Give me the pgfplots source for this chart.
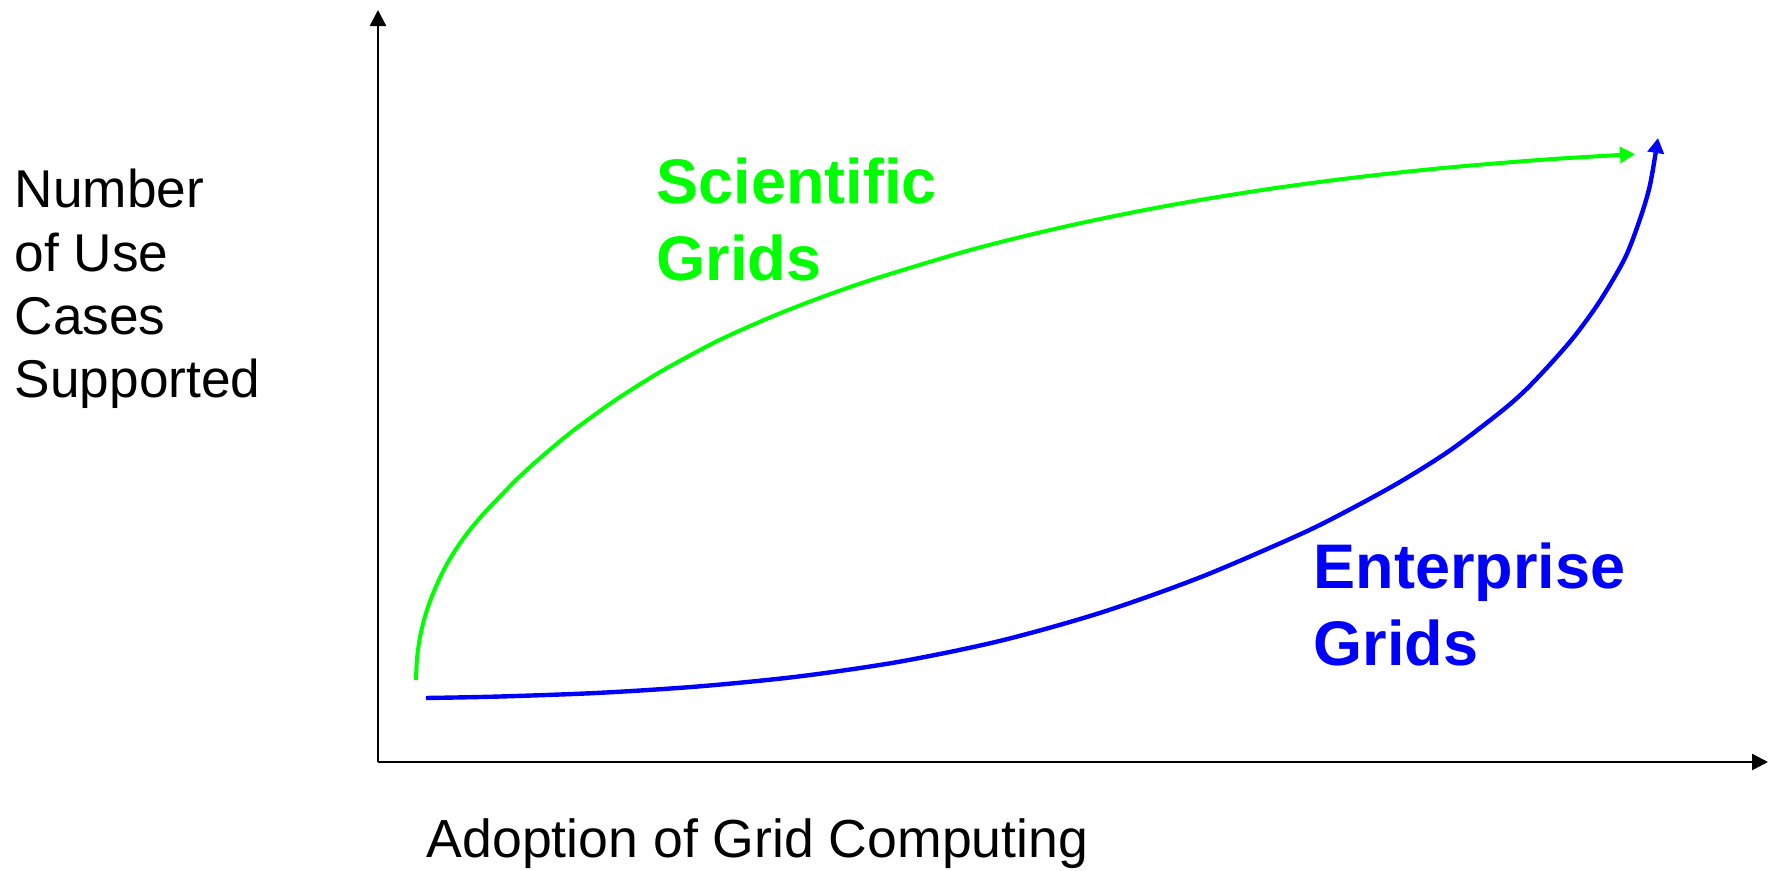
\documentclass[border=0pt]{standalone}
\usepackage{pgfplots}
\pgfplotsset{compat=1.18}
\usetikzlibrary{arrows.meta}
\usepackage{fontspec}
\setmainfont{Liberation Sans}
\definecolor{sgreen}{RGB}{0,255,0}
\definecolor{eblue}{RGB}{0,0,255}
\begin{document}
\begin{tikzpicture}
\begin{axis}[
  scale only axis, width=347.5pt, height=188pt,
  xmin=378, xmax=1768, ymin=108, ymax=860,
  axis x line=bottom, axis y line=left,
  axis line style={line width=0.6pt, -{Triangle[length=4pt,width=4pt]}},
  xtick=\empty, ytick=\empty,
  clip=false,
]
\addplot[sgreen, line width=1pt, smooth, -{Triangle[length=3.75pt,width=4pt]}] coordinates {
(416,190)(417,211.5)(420,232.8)(425,253.6)(432,274)(441,294.5)(450,311.3)(461,328.2)(473,344)(486,359)(500,373.5)(516,390)(533,405.7)(553,423)(573,439.3)(595,455.5)(617,471)(642,487)(667,502)(717,528.8)(767,551.3)(813,569.6)(870,589.7)(960,617.1)(1020,632.8)(1083,647.4)(1150,661)(1210,671.7)(1275,681.9)(1338,690.4)(1400,697.6)(1465,704)(1550,710.8)(1635,715.9)};
\addplot[eblue, line width=1.1pt, smooth, -{Triangle[length=3.75pt,width=4pt]}] coordinates {
(426,172)(500,173.5)(600,177.2)(700,183.7)(800,193.7)(900,208.4)(1000,229.1)(1100,257.1)(1200,292.6)(1300,335.6)(1350,360.6)(1400,388.1)(1450,419.6)(1500,457.6)(1525,479.4)(1550,505.6)(1575,534.4)(1600,569.1)(1625,612)(1640,651)(1650,685)(1658,732)};
\begin{scope}[every node/.style={inner sep=0pt, anchor=base west, font=\fontsize{13.3}{16}\selectfont}]
\node at (axis cs:14,663) {Number};
\node at (axis cs:14,599) {of Use};
\node at (axis cs:14,536) {Cases};
\node at (axis cs:14,473) {Supported};
\node[font=\fontsize{13.4}{16}\selectfont] at (axis cs:426,13) {Adoption of Grid Computing};
\end{scope}
\begin{scope}[every node/.style={inner sep=0pt, anchor=base west, font=\fontsize{15.75}{19}\selectfont\bfseries}]
\node[text=sgreen] at (axis cs:656,667) {Scientific};
\node[text=sgreen] at (axis cs:656,590) {Grids};
\node[text=eblue] at (axis cs:1313,282) {Enterprise};
\node[text=eblue] at (axis cs:1313,205) {Grids};
\end{scope}
\coordinate (BL) at (axis cs:0,0);
\coordinate (TR) at (axis cs:1769,870);
\end{axis}
\pgfresetboundingbox
\path[use as bounding box] (BL) rectangle (TR);
\end{tikzpicture}
\end{document}
